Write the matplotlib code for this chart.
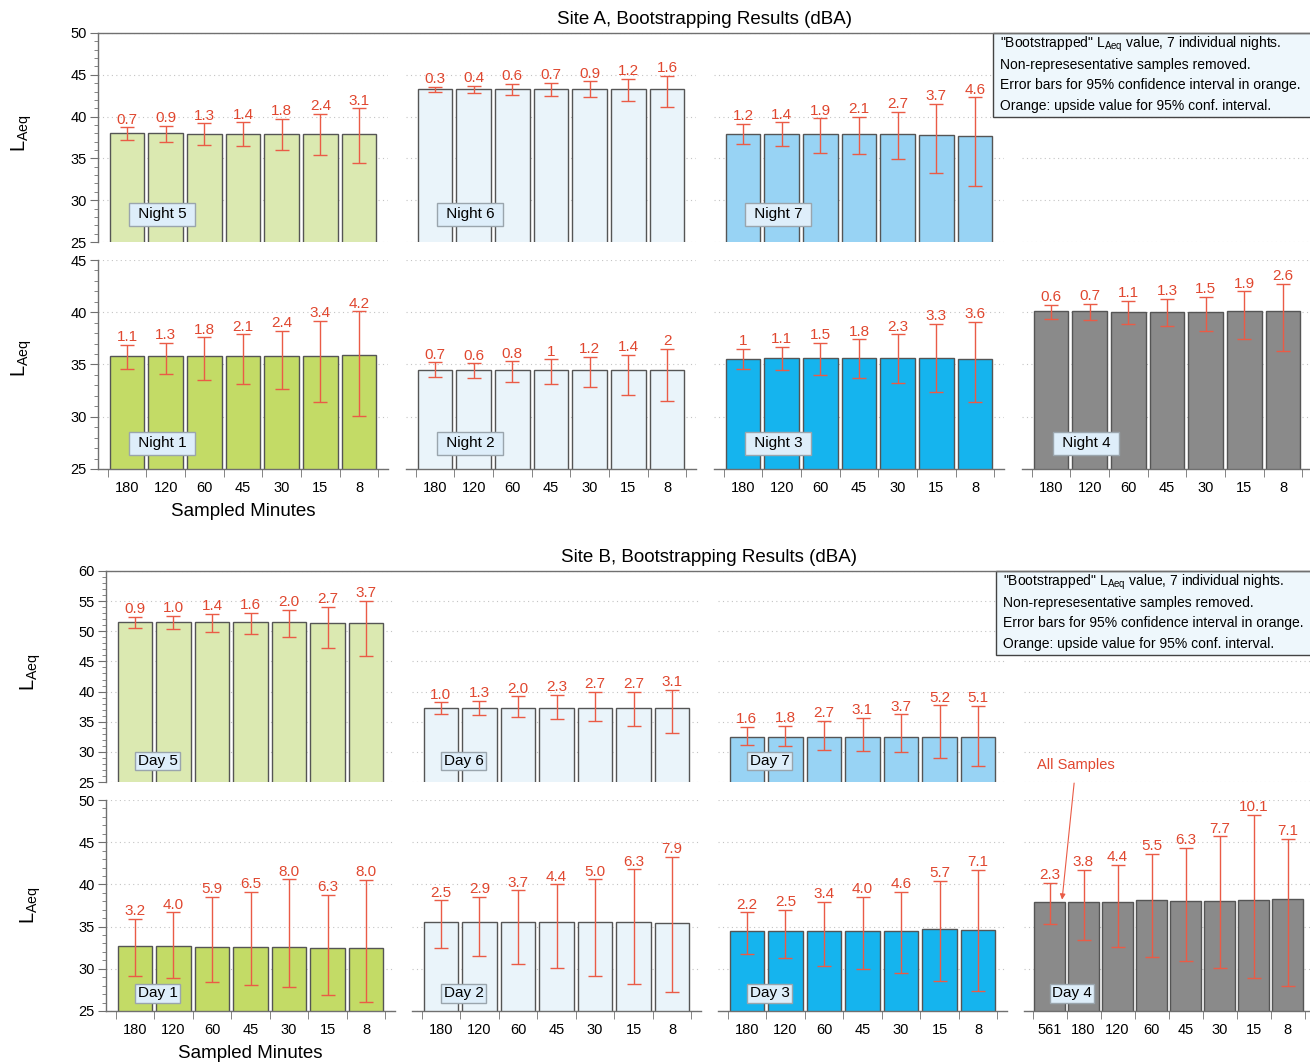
import matplotlib.pyplot as plt
from matplotlib.lines import Line2D
from matplotlib.patches import Rectangle
from matplotlib.ticker import MultipleLocator

plt.rcParams['font.family'] = ['Liberation Sans', 'DejaVu Sans']
plt.rcParams['mathtext.fontset'] = 'custom'
plt.rcParams['mathtext.rm'] = 'Liberation Sans'
plt.rcParams['mathtext.it'] = 'Liberation Sans:italic'

# sampled minutes per bootstrap run
minutes = ["180", "120", "60", "45", "30", "15", "8"]
minutes_day4 = ["561", "180", "120", "60", "45", "30", "15", "8"]

# Site A - LAeq, upside of 95% interval (label text), downside of interval
night1_laeq = [35.8, 35.8, 35.8, 35.8, 35.8, 35.8, 35.9]
night1_up = ["1.1", "1.3", "1.8", "2.1", "2.4", "3.4", "4.2"]
night1_low = [1.2, 1.7, 2.3, 2.7, 3.1, 4.4, 5.8]

night2_laeq = [34.5, 34.5, 34.5, 34.5, 34.5, 34.5, 34.5]
night2_up = ["0.7", "0.6", "0.8", "1", "1.2", "1.4", "2"]
night2_low = [0.7, 0.8, 1.2, 1.4, 1.7, 2.4, 3.0]

night3_laeq = [35.5, 35.6, 35.6, 35.6, 35.6, 35.6, 35.5]
night3_up = ["1", "1.1", "1.5", "1.8", "2.3", "3.3", "3.6"]
night3_low = [0.9, 1.1, 1.6, 1.9, 2.4, 3.2, 4.1]

night4_laeq = [40.1, 40.1, 40.0, 40.0, 40.0, 40.1, 40.1]
night4_up = ["0.6", "0.7", "1.1", "1.3", "1.5", "1.9", "2.6"]
night4_low = [0.7, 0.8, 1.1, 1.35, 1.8, 2.7, 3.8]

night5_laeq = [38.0, 38.0, 37.9, 37.9, 37.9, 37.9, 37.9]
night5_up = ["0.7", "0.9", "1.3", "1.4", "1.8", "2.4", "3.1"]
night5_low = [0.8, 1.0, 1.3, 1.4, 1.9, 2.5, 3.5]

night6_laeq = [43.3, 43.3, 43.3, 43.3, 43.3, 43.3, 43.3]
night6_up = ["0.3", "0.4", "0.6", "0.7", "0.9", "1.2", "1.6"]
night6_low = [0.35, 0.5, 0.7, 0.8, 1.0, 1.4, 2.2]

night7_laeq = [37.9, 37.9, 37.9, 37.9, 37.9, 37.8, 37.7]
night7_up = ["1.2", "1.4", "1.9", "2.1", "2.7", "3.7", "4.6"]
night7_low = [1.2, 1.4, 2.2, 2.4, 3.0, 4.5, 6.0]

# Site B
day1_laeq = [32.7, 32.7, 32.6, 32.6, 32.6, 32.5, 32.5]
day1_up = ["3.2", "4.0", "5.9", "6.5", "8.0", "6.3", "8.0"]
day1_low = [3.5, 3.8, 4.2, 4.5, 4.8, 5.6, 6.4]

day2_laeq = [35.6, 35.6, 35.6, 35.6, 35.6, 35.5, 35.4]
day2_up = ["2.5", "2.9", "3.7", "4.4", "5.0", "6.3", "7.9"]
day2_low = [3.1, 4.1, 5.0, 5.5, 6.4, 7.3, 8.2]

day3_laeq = [34.5, 34.5, 34.5, 34.5, 34.5, 34.7, 34.6]
day3_up = ["2.2", "2.5", "3.4", "4.0", "4.6", "5.7", "7.1"]
day3_low = [2.7, 3.2, 4.2, 4.5, 5.0, 6.1, 7.2]

day4_laeq = [37.9, 37.9, 37.9, 38.1, 38.0, 38.0, 38.1, 38.3]
day4_up = ["2.3", "3.8", "4.4", "5.5", "6.3", "7.7", "10.1", "7.1"]
day4_low = [2.6, 4.5, 5.3, 6.7, 7.1, 7.95, 9.2, 10.3]

day5_laeq = [51.5, 51.6, 51.5, 51.5, 51.5, 51.4, 51.4]
day5_up = ["0.9", "1.0", "1.4", "1.6", "2.0", "2.7", "3.7"]
day5_low = [0.9, 1.3, 1.7, 2.0, 2.5, 4.1, 5.5]

day6_laeq = [37.2, 37.2, 37.2, 37.2, 37.2, 37.2, 37.2]
day6_up = ["1.0", "1.3", "2.0", "2.3", "2.7", "2.7", "3.1"]
day6_low = [0.9, 1.1, 1.4, 1.75, 2.0, 2.9, 4.0]

day7_laeq = [32.5, 32.5, 32.5, 32.5, 32.5, 32.5, 32.5]
day7_up = ["1.6", "1.8", "2.7", "3.1", "3.7", "5.2", "5.1"]
day7_low = [1.4, 1.6, 2.2, 2.3, 2.6, 3.55, 4.8]

GREEN_PALE = '#dbe9b1'
GREEN = '#c3db66'
BLUE_PALE = '#eaf4fa'
BLUE_LIGHT = '#98d3f4'
BLUE = '#15b4ee'
GRAY = '#8a8a8a'
ERR = '#ea5b46'
LBL = '#e0472f'
AXC = '#707070'

W, H = 1310, 1064
fig = plt.figure(figsize=(W / 100, H / 100), dpi=100)


def fig_xy(x, y):
    return x / W, 1 - y / H


def px_axes(x0, y0, w, h):
    return fig.add_axes([x0 / W, 1 - (y0 + h) / H, w / W, h / H])


def panel(x0, y0, w, h, ylim, first, bottom, ncat=7, cats=None, laeq=None,
          up=None, low=None, color=None, tag=None, tagpos=None, tagpad=0.3):
    ax = px_axes(x0, y0, w, h)
    ax.set_facecolor('none')
    ax.set_xlim(-0.75, ncat - 0.25)
    ax.set_ylim(*ylim)
    for s in ['top', 'right']:
        ax.spines[s].set_visible(False)
    ax.spines['left'].set_visible(first)
    ax.spines['bottom'].set_visible(bottom)
    for s in ['left', 'bottom']:
        ax.spines[s].set_color(AXC)
        ax.spines[s].set_linewidth(1)
    ax.yaxis.set_major_locator(MultipleLocator(5))
    ax.yaxis.set_minor_locator(MultipleLocator(1))
    ax.grid(axis='y', which='major', color='#c4c4c4', linestyle=(0, (1, 3)), linewidth=0.8)
    ax.set_axisbelow(True)
    ax.tick_params(axis='y', which='both', left=first, labelleft=first,
                   direction='out', color=AXC, labelsize=10.5, pad=2)
    ax.tick_params(axis='y', which='major', length=6)
    ax.tick_params(axis='y', which='minor', length=3)

    if bottom and cats is not None:
        ax.set_xticks(range(ncat))
        ax.set_xticklabels(cats)
        ax.set_xticks([i - 0.5 for i in range(ncat + 1)], minor=True)
        ax.tick_params(axis='x', which='major', length=0, pad=8.5, labelsize=10.5)
        ax.tick_params(axis='x', which='minor', length=5.5, color=AXC, direction='out')
    else:
        ax.set_xticks([])

    if laeq is not None:
        x = list(range(ncat))
        err = [float(s) for s in up]
        ax.bar(x, laeq, width=0.9, color=color, edgecolor='#555555', linewidth=1, zorder=2)
        ax.errorbar(x, laeq, yerr=[low, err], fmt='none', ecolor=ERR,
                    elinewidth=1, capsize=5, capthick=1, zorder=3)
        for xi, m, e, s in zip(x, laeq, err, up):
            ax.annotate(s, (xi, m + e), xytext=(0, 0.5), textcoords='offset points',
                        ha='center', va='bottom', color=LBL, fontsize=11, zorder=4)
        ax.text(tagpos[0], tagpos[1], tag, transform=ax.transAxes, ha='center',
                va='center', fontsize=11, zorder=5,
                bbox=dict(boxstyle=f'square,pad={tagpad}', fc='#deeefa', ec='#9aa5ad', lw=1))
    return ax


def legend_box(x0, y0):
    fig.add_artist(Rectangle(fig_xy(x0, y0 + 84), 320 / W, 84 / H, transform=fig.transFigure,
                             fc='#eef7fc', ec='#444444', lw=1))
    lines = ['"Bootstrapped" L$_{\\mathrm{Aeq}}$ value, 7 individual nights.',
             'Non-represesentative samples removed.',
             'Error bars for 95% confidence interval in orange.',
             'Orange: upside value for 95% conf. interval.']
    for i, t in enumerate(lines):
        fig.text(*fig_xy(x0 + 7, y0 + 11.5 + 20.5 * i), t, ha='left', va='center', fontsize=10)


def site_frame(yx, ytop, title, tx, ty):
    fig.add_artist(Line2D([yx / W, 1], [1 - ytop / H] * 2, transform=fig.transFigure,
                          color=AXC, lw=1))
    fig.text(*fig_xy(tx, ty), title, ha='center', va='center', fontsize=13.5)


# ---- Site A ----
xa = [98, 406, 714, 1022]
wa = 290
site_frame(98, 33, 'Site A, Bootstrapping Results (dBA)', 705, 19)
panel(xa[0], 33, wa, 209, (25, 50), True, False, cats=minutes, laeq=night5_laeq, up=night5_up,
      low=night5_low, color=GREEN_PALE, tag=' Night 5 ', tagpos=(0.222, 0.132))
panel(xa[1], 33, wa, 209, (25, 50), False, False, cats=minutes, laeq=night6_laeq, up=night6_up,
      low=night6_low, color=BLUE_PALE, tag=' Night 6 ', tagpos=(0.222, 0.132))
panel(xa[2], 33, wa, 209, (25, 50), False, False, cats=minutes, laeq=night7_laeq, up=night7_up,
      low=night7_low, color=BLUE_LIGHT, tag=' Night 7 ', tagpos=(0.222, 0.132))
panel(xa[3], 33, wa, 209, (25, 50), False, False)

panel(xa[0], 260, wa, 209, (25, 45), True, True, cats=minutes, laeq=night1_laeq, up=night1_up,
      low=night1_low, color=GREEN, tag=' Night 1 ', tagpos=(0.222, 0.124))
panel(xa[1], 260, wa, 209, (25, 45), False, True, cats=minutes, laeq=night2_laeq, up=night2_up,
      low=night2_low, color=BLUE_PALE, tag=' Night 2 ', tagpos=(0.222, 0.124))
panel(xa[2], 260, wa, 209, (25, 45), False, True, cats=minutes, laeq=night3_laeq, up=night3_up,
      low=night3_low, color=BLUE, tag=' Night 3 ', tagpos=(0.222, 0.124))
panel(xa[3], 260, wa, 209, (25, 45), False, True, cats=minutes, laeq=night4_laeq, up=night4_up,
      low=night4_low, color=GRAY, tag=' Night 4 ', tagpos=(0.222, 0.124))
legend_box(993, 33)

fig.text(*fig_xy(22, 133), r'L$_{\mathrm{Aeq}}$', rotation=90, ha='center', va='center', fontsize=14.5)
fig.text(*fig_xy(22, 358), r'L$_{\mathrm{Aeq}}$', rotation=90, ha='center', va='center', fontsize=14.5)
fig.text(*fig_xy(243, 512), 'Sampled Minutes', ha='center', va='center', fontsize=13.5)

# ---- Site B ----
xb = [106, 412, 718, 1024]
wb = 289
site_frame(106, 571, 'Site B, Bootstrapping Results (dBA)', 709, 557)
panel(xb[0], 571, wb, 211, (25, 60), True, False, cats=minutes, laeq=day5_laeq, up=day5_up,
      low=day5_low, color=GREEN_PALE, tag='Day 5', tagpos=(0.178, 0.1), tagpad=0.15)
panel(xb[1], 571, wb, 211, (25, 60), False, False, cats=minutes, laeq=day6_laeq, up=day6_up,
      low=day6_low, color=BLUE_PALE, tag='Day 6', tagpos=(0.178, 0.1), tagpad=0.15)
panel(xb[2], 571, wb, 211, (25, 60), False, False, cats=minutes, laeq=day7_laeq, up=day7_up,
      low=day7_low, color=BLUE_LIGHT, tag='Day 7', tagpos=(0.178, 0.1), tagpad=0.15)
panel(xb[3], 571, wb, 211, (25, 60), False, False)

panel(xb[0], 800, wb, 211, (25, 50), True, True, cats=minutes, laeq=day1_laeq, up=day1_up,
      low=day1_low, color=GREEN, tag='Day 1', tagpos=(0.178, 0.083), tagpad=0.15)
panel(xb[1], 800, wb, 211, (25, 50), False, True, cats=minutes, laeq=day2_laeq, up=day2_up,
      low=day2_low, color=BLUE_PALE, tag='Day 2', tagpos=(0.178, 0.083), tagpad=0.15)
panel(xb[2], 800, wb, 211, (25, 50), False, True, cats=minutes, laeq=day3_laeq, up=day3_up,
      low=day3_low, color=BLUE, tag='Day 3', tagpos=(0.178, 0.083), tagpad=0.15)
ax_d4 = panel(xb[3], 800, wb, 211, (25, 50), False, True, ncat=8, cats=minutes_day4,
              laeq=day4_laeq, up=day4_up, low=day4_low, color=GRAY, tag='Day 4',
              tagpos=(0.166, 0.083), tagpad=0.15)
legend_box(996, 571)

ax_d4.annotate('All Samples', xy=(0.37, day4_laeq[0] + 0.3), xycoords='data',
               xytext=fig_xy(1076, 765), textcoords='figure fraction',
               ha='center', va='center', color=LBL, fontsize=10.5,
               arrowprops=dict(arrowstyle='-|>', color=ERR, lw=0.8, mutation_scale=8,
                               shrinkA=6, shrinkB=0))

fig.text(*fig_xy(31, 672), r'L$_{\mathrm{Aeq}}$', rotation=90, ha='center', va='center', fontsize=14.5)
fig.text(*fig_xy(31, 905), r'L$_{\mathrm{Aeq}}$', rotation=90, ha='center', va='center', fontsize=14.5)
fig.text(*fig_xy(250, 1054), 'Sampled Minutes', ha='center', va='center', fontsize=13.5)

fig.savefig('out.png', dpi=100)
